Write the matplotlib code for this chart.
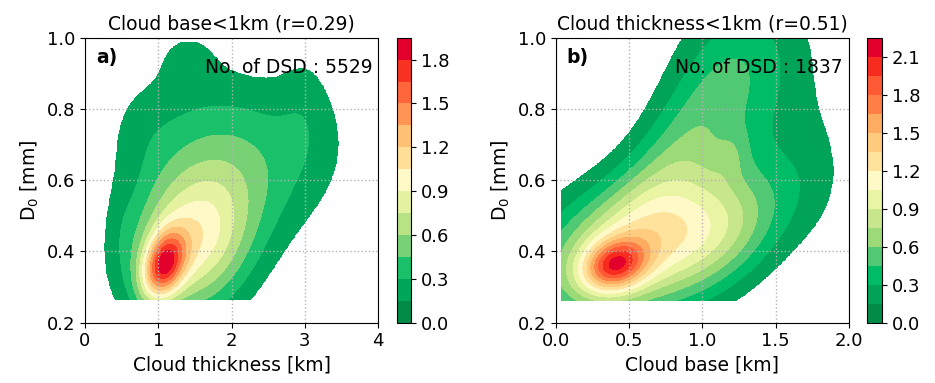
import numpy as np
import matplotlib
matplotlib.use("Agg")
import matplotlib.pyplot as plt
from matplotlib.colors import LinearSegmentedColormap

# Colour bands of the density scale, low -> high
band_colors = ["#008a48", "#00a358", "#00bd66", "#54c873", "#9cda78",
               "#c8e68b", "#ebf5a4", "#fffac8", "#ffe39c", "#ffcb7e",
               "#ffac63", "#ff8048", "#ff5a36", "#f82c1f", "#e3002d"]
cmap = LinearSegmentedColormap.from_list("dens", band_colors)

# Panel a) density components: centre x, centre y, sx, sy, corr, amplitude
a_cx = [1.07, 1.45, 2.10, 1.70, 1.40, 3.00, 0.50, 0.80]
a_cy = [0.360, 0.420, 0.550, 0.720, 0.950, 0.820, 0.450, 0.740]
a_sx = [0.20, 0.55, 1.00, 0.90, 0.30, 0.25, 0.15, 0.30]
a_sy = [0.065, 0.140, 0.180, 0.150, 0.060, 0.120, 0.100, 0.100]
a_rho = [0.30, 0.15, 0.50, 0.00, 0.00, 0.00, 0.00, 0.00]
a_amp = [1.20, 0.80, 0.25, 0.28, 0.12, 0.10, 0.06, 0.05]

# Panel b) density components
b_cx = [0.40, 0.60, 0.80, 1.10, 1.30, 1.20, 1.20, 1.75]
b_cy = [0.360, 0.420, 0.680, 0.750, 0.950, 0.670, 0.450, 0.650]
b_sx = [0.15, 0.50, 0.30, 0.35, 0.35, 0.08, 0.30, 0.20]
b_sy = [0.050, 0.140, 0.180, 0.220, 0.150, 0.050, 0.120, 0.150]
b_rho = [0.20, 0.40, 0.70, 0.50, 0.00, 0.30, 0.50, 0.00]
b_amp = [1.10, 1.10, 0.25, 0.30, 0.17, 0.12, 0.25, 0.12]

a_levels = np.arange(0, 1.951, 0.15)
b_levels = np.arange(0, 2.251, 0.15)
a_ticks = [0.0, 0.3, 0.6, 0.9, 1.2, 1.5, 1.8]
b_ticks = [0.0, 0.3, 0.6, 0.9, 1.2, 1.5, 1.8, 2.1]

FS = 13.5
TFS = 13


def density(X, Y, cx, cy, sx, sy, rho, amp):
    Z = np.zeros_like(X)
    for x0, y0, s1, s2, r, a in zip(cx, cy, sx, sy, rho, amp):
        u = (X - x0) / s1
        v = (Y - y0) / s2
        q = (u * u - 2 * r * u * v + v * v) / (1 - r * r)
        Z += a * np.exp(-0.5 * q)
    return Z


def panel(ax, cax, Z, X, Y, levels, ticks):
    Z = np.minimum(Z, levels[-1] - 1e-6)
    Z = np.ma.masked_less(Z, levels[1])
    n = len(levels) - 1
    cols = [cmap(i / (n - 1)) for i in range(n)]
    cs = ax.contourf(X, Y, Z, levels=levels, colors=cols)
    cb = plt.colorbar(cs, cax=cax, ticks=ticks)
    cb.ax.tick_params(labelsize=TFS)
    cb.ax.set_yticklabels([f"{t:.1f}" for t in ticks])
    ax.grid(True, ls=":", color="0.7", lw=1)
    ax.set_ylim(0.2, 1.0)
    ax.set_yticks([0.2, 0.4, 0.6, 0.8, 1.0])
    ax.tick_params(labelsize=TFS)
    ax.set_ylabel("D$_0$ [mm]", fontsize=FS)


fig = plt.figure(figsize=(9.35, 3.83), dpi=100)
ax1 = fig.add_axes([0.0909, 0.1574, 0.3134, 0.7442])
cax1 = fig.add_axes([0.4246, 0.1574, 0.0150, 0.7442])
ax2 = fig.add_axes([0.5943, 0.1574, 0.3137, 0.7442])
cax2 = fig.add_axes([0.9273, 0.1574, 0.0160, 0.7442])

# panel a
xa = np.linspace(0, 4, 401)
ya = np.linspace(0.265, 1.0, 300)
XA, YA = np.meshgrid(xa, ya)
ZA = density(XA, YA, a_cx, a_cy, a_sx, a_sy, a_rho, a_amp)
panel(ax1, cax1, ZA, XA, YA, a_levels, a_ticks)
ax1.set_xlim(0, 4)
ax1.set_xticks([0, 1, 2, 3, 4])
ax1.set_xlabel("Cloud thickness [km]", fontsize=FS)
ax1.set_title("Cloud base<1km (r=0.29)", fontsize=FS)
ax1.text(0.04, 0.93, "a)", transform=ax1.transAxes, fontsize=FS,
         fontweight="bold", va="center")
ax1.text(0.98, 0.897, "No. of DSD : 5529", transform=ax1.transAxes,
         fontsize=FS, ha="right", va="center")

# panel b
xb = np.linspace(0.04, 2.0, 400)
yb = np.linspace(0.262, 1.0, 300)
XB, YB = np.meshgrid(xb, yb)
ZB = density(XB, YB, b_cx, b_cy, b_sx, b_sy, b_rho, b_amp)
panel(ax2, cax2, ZB, XB, YB, b_levels, b_ticks)
ax2.set_xlim(0, 2)
ax2.set_xticks([0.0, 0.5, 1.0, 1.5, 2.0])
ax2.set_xticklabels(["0.0", "0.5", "1.0", "1.5", "2.0"])
ax2.set_xlabel("Cloud base [km]", fontsize=FS)
ax2.set_title("Cloud thickness<1km (r=0.51)", fontsize=FS)
ax2.text(0.037, 0.93, "b)", transform=ax2.transAxes, fontsize=FS,
         fontweight="bold", va="center")
ax2.text(0.978, 0.897, "No. of DSD : 1837", transform=ax2.transAxes,
         fontsize=FS, ha="right", va="center")

fig.savefig("out.png", dpi=100)
